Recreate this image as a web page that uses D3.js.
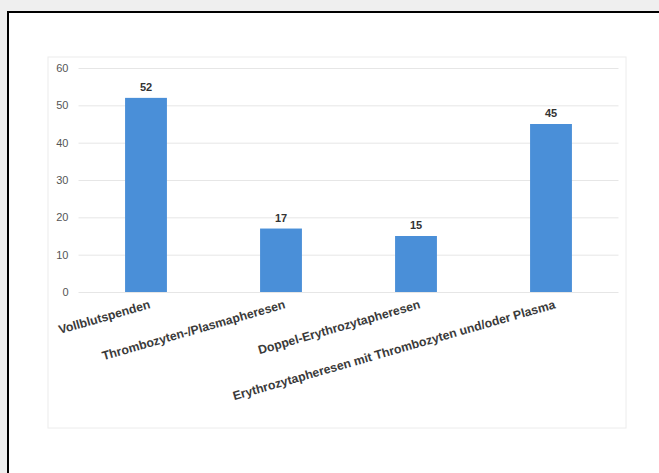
<!DOCTYPE html>
<html>
<head>
<meta charset="utf-8">
<script src="https://cdn.jsdelivr.net/npm/d3@7"></script>
<style>
  body { margin: 0; background: #efefef; }
  svg { display: block; }
  .tick text { font-family: "Liberation Sans", Arial, sans-serif; }
</style>
</head>
<body>
<svg id="chart"></svg>
<script>
// chart data
const categories = [
  "Vollblutspenden",
  "Thrombozyten-/Plasmapheresen",
  "Doppel-Erythrozytapheresen",
  "Erythrozytapheresen mit Thrombozyten und/oder Plasma"
];
const values = [52, 17, 15, 45];
const yTicks = [0, 10, 20, 30, 40, 50, 60];

const width = 659, height = 473;
const margin = { top: 68, right: 40.5, bottom: 181, left: 78.5 };

const svg = d3.select("#chart")
  .attr("width", width)
  .attr("height", height);

// white page with black frame
svg.append("rect")
  .attr("x", 8).attr("y", 12)
  .attr("width", 700).attr("height", 520)
  .attr("fill", "#fff")
  .attr("stroke", "#000")
  .attr("stroke-width", 2);

// faint panel outline
svg.append("rect")
  .attr("x", 48).attr("y", 57)
  .attr("width", 578).attr("height", 371)
  .attr("fill", "none")
  .attr("stroke", "#ececec")
  .attr("stroke-width", 1);

const innerW = width - margin.left - margin.right;
const innerH = height - margin.top - margin.bottom;

const x = d3.scaleBand()
  .domain(categories)
  .range([0, innerW])
  .paddingInner(0.69)
  .paddingOuter(0.345);

const y = d3.scaleLinear().domain([0, 60]).range([innerH, 0]);

const g = svg.append("g")
  .attr("transform", `translate(${margin.left},${margin.top})`);

// gridlines
g.append("g")
  .selectAll("line")
  .data(yTicks)
  .join("line")
  .attr("x1", 0).attr("x2", innerW)
  .attr("y1", d => y(d) + 0.5).attr("y2", d => y(d) + 0.5)
  .attr("stroke", "#e6e6e6");

// y axis labels
const yAxis = d3.axisLeft(y).tickValues(yTicks).tickSize(0).tickPadding(10);
g.append("g")
  .call(yAxis)
  .call(a => a.select(".domain").remove())
  .selectAll("text")
  .attr("font-size", "11px")
  .attr("fill", "#555");

// bars
g.selectAll(".bar")
  .data(values)
  .join("rect")
  .attr("class", "bar")
  .attr("x", (d, i) => x(categories[i]))
  .attr("width", x.bandwidth())
  .attr("y", d => y(d))
  .attr("height", d => innerH - y(d))
  .attr("fill", "#4a8fd8");

// value labels
g.selectAll(".val")
  .data(values)
  .join("text")
  .attr("class", "val")
  .attr("x", (d, i) => x(categories[i]) + x.bandwidth() / 2)
  .attr("y", d => y(d) - 7)
  .attr("text-anchor", "middle")
  .attr("font-family", "Liberation Sans, Arial, sans-serif")
  .attr("font-weight", "bold")
  .attr("font-size", "11px")
  .attr("fill", "#333")
  .text(d => d);

// category labels (rotated)
const xAxis = d3.axisBottom(x).tickSize(0).tickPadding(0);
g.append("g")
  .attr("transform", `translate(0,${innerH})`)
  .call(xAxis)
  .call(a => a.select(".domain").remove())
  .selectAll("text")
  .attr("text-anchor", "end")
  .attr("dy", null)
  .attr("y", null)
  .attr("transform", "translate(5,16) rotate(-16)")
  .attr("font-size", "12.3px")
  .attr("font-weight", "bold")
  .attr("fill", "#3a3a3a");
</script>
</body>
</html>
